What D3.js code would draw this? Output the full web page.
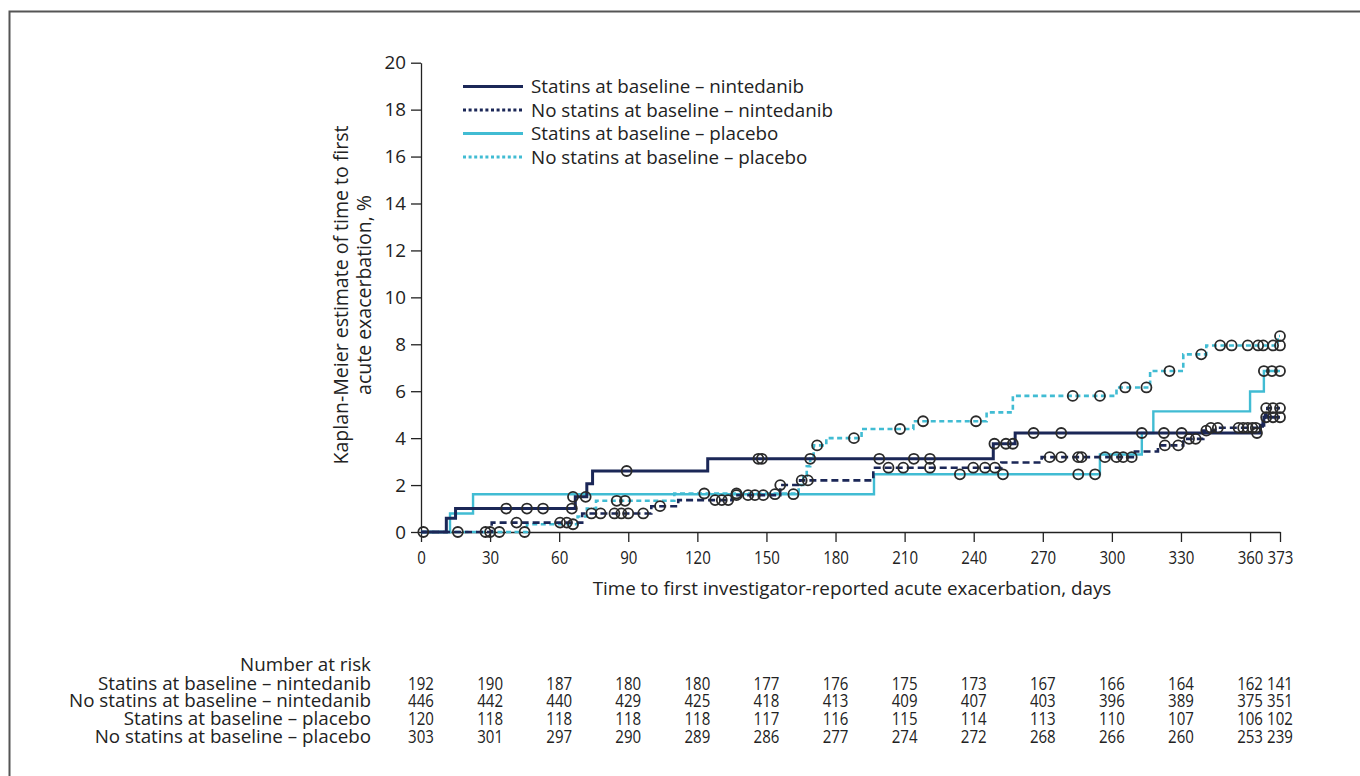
<!DOCTYPE html>
<html>
<head>
<meta charset="utf-8">
<script src="https://cdn.jsdelivr.net/npm/d3@7"></script>
<style>
  body { margin: 0; background: #fff; }
  text { font-family: "Open Sans", "Noto Sans", sans-serif; fill: #222; }
</style>
</head>
<body>
<svg id="chart"></svg>
<script>
const xTicks = [0, 30, 60, 90, 120, 150, 180, 210, 240, 270, 300, 330, 360, 373];
const yTicks = [0, 2, 4, 6, 8, 10, 12, 14, 16, 18, 20];

const seriesNames = [
  "Statins at baseline – nintedanib",
  "No statins at baseline – nintedanib",
  "Statins at baseline – placebo",
  "No statins at baseline – placebo"
];

// number at risk, one row per series, at each x tick
const riskStatinsNin = [192, 190, 187, 180, 180, 177, 176, 175, 173, 167, 166, 164, 162, 141];
const riskNoStatinsNin = [446, 442, 440, 429, 425, 418, 413, 409, 407, 403, 396, 389, 375, 351];
const riskStatinsPbo = [120, 118, 118, 118, 118, 117, 116, 115, 114, 113, 110, 107, 106, 102];
const riskNoStatinsPbo = [303, 301, 297, 290, 289, 286, 277, 274, 272, 268, 266, 260, 253, 239];

// KM step points [day, %]
const stepsStatinsNin = [[0, 0], [11, 0.59], [15, 1.0], [67, 1.5], [72, 2.06], [74.5, 2.6], [124.5, 3.12],
  [248.5, 3.76], [258, 4.22], [364.5, 4.55], [366, 4.89], [373, 4.89]];
const stepsNoStatinsNin = [[0, 0], [30.7, 0.4], [70, 0.79], [100, 1.1], [111.7, 1.36], [135, 1.57], [156, 2.0],
  [164.6, 2.2], [196.4, 2.74], [252, 2.96], [269.5, 3.19], [310, 3.43], [320, 3.69], [331, 3.97], [339.7, 4.32],
  [345, 4.44], [365.5, 4.7], [366.5, 5.0], [367.5, 5.28], [373, 5.28]];
const stepsStatinsPbo = [[0, 0], [12.6, 0.79], [22.6, 1.61], [196.7, 2.46], [294.8, 3.3], [313, 4.22],
  [318, 5.14], [360, 5.99], [366, 6.86], [373, 6.86]];
const stepsNoStatinsPbo = [[0, 0], [46, 0.33], [68, 0.66], [72, 1.0], [76, 1.33], [110, 1.64], [164, 2.0],
  [166, 2.4], [167.5, 2.8], [169, 3.12], [170.5, 3.69], [176, 4.0], [191.3, 4.39], [213.8, 4.72], [245.6, 5.1],
  [257, 5.8], [302, 6.16], [316.6, 6.86], [331, 7.57], [341, 7.95], [372, 8.35], [373, 8.35]];

// censored observations [day, %]
const censStatinsNin = [[1, 0], [37, 1.0], [46, 1.0], [53, 1.0], [65.5, 1.0], [66, 1.5], [71.5, 1.5], [89.3, 2.6],
  [146.5, 3.12], [148, 3.12], [169, 3.12], [199, 3.12], [214, 3.12], [221, 3.12], [249, 3.76], [254, 3.76],
  [257, 3.76], [266, 4.22], [278, 4.22], [313, 4.22], [322.6, 4.22], [330.3, 4.22], [363, 4.22],
  [367, 4.89], [370, 4.89], [373, 4.89]];
const censNoStatinsNin = [[16, 0], [28, 0], [30, 0], [41.5, 0.4], [60.4, 0.4], [63.3, 0.4], [74, 0.79], [78, 0.79],
  [84, 0.79], [87, 0.79], [90, 0.79], [96.5, 0.79], [103.8, 1.1], [127.7, 1.36], [130.6, 1.36], [133.4, 1.36],
  [137, 1.57], [142, 1.57], [145, 1.57], [148.6, 1.57], [156, 2.0], [165.3, 2.2], [168, 2.2], [203, 2.74],
  [209.4, 2.74], [221, 2.74], [239.8, 2.74], [244.9, 2.74], [249.2, 2.74], [273, 3.19], [278, 3.19],
  [285.4, 3.19], [286.8, 3.19], [297, 3.19], [302, 3.19], [304.9, 3.19], [308.6, 3.19], [323, 3.69],
  [328.8, 3.69], [333.5, 3.97], [336.4, 3.97], [341, 4.32], [343, 4.44], [346, 4.44], [355, 4.44],
  [357, 4.44], [359, 4.44], [361, 4.44], [362.5, 4.44], [367, 5.28], [370, 5.28], [373, 5.28]];
const censStatinsPbo = [[153.7, 1.61], [161.7, 1.61], [234, 2.46], [252.7, 2.46], [285.4, 2.46], [292.7, 2.46],
  [366, 6.86], [369.5, 6.86], [373, 6.86]];
const censNoStatinsPbo = [[34, 0], [45, 0], [66, 0.33], [85, 1.33], [88.6, 1.33], [123, 1.64], [137, 1.64],
  [172, 3.69], [188, 4.0], [208, 4.39], [218, 4.72], [241, 4.72], [283, 5.8], [294.8, 5.8], [305.8, 6.16],
  [315, 6.16], [325, 6.86], [338.8, 7.57], [347, 7.95], [352, 7.95], [359, 7.95], [363.5, 7.95],
  [365.7, 7.95], [370, 7.95], [373, 7.95], [373, 8.35]];

const dark = "#1b2757";
const light = "#41bcd3";

const series = [
  { name: seriesNames[0], steps: stepsStatinsNin, cens: censStatinsNin, risk: riskStatinsNin, color: dark, dash: null, w: 3 },
  { name: seriesNames[1], steps: stepsNoStatinsNin, cens: censNoStatinsNin, risk: riskNoStatinsNin, color: dark, dash: "7,4", w: 2.6 },
  { name: seriesNames[2], steps: stepsStatinsPbo, cens: censStatinsPbo, risk: riskStatinsPbo, color: light, dash: null, w: 2.4 },
  { name: seriesNames[3], steps: stepsNoStatinsPbo, cens: censNoStatinsPbo, risk: riskNoStatinsPbo, color: light, dash: "5,3.5", w: 2.6 }
];

const width = 1360, height = 776;
const svg = d3.select("#chart").attr("width", width).attr("height", height);

// frame (top and left edges visible)
svg.append("path").attr("d", "M9.5,776V11.5H1360")
  .attr("fill", "none").attr("stroke", "#555").attr("stroke-width", 2);

const x = d3.scaleLinear().domain([0, 373]).range([421, 1280]);
const y = d3.scaleLinear().domain([0, 20]).range([532, 62.7]);

const fs = "18.8px";
const numScale = 0.8; // numbers in the reference are set narrow

// y axis
const gy = svg.append("g").attr("transform", `translate(${x(0)},0)`)
  .call(d3.axisLeft(y).tickValues(yTicks).tickSize(10).tickSizeOuter(0).tickPadding(5));
gy.select(".domain").attr("stroke", "#222").attr("stroke-width", 1.3);
gy.selectAll(".tick line").attr("stroke", "#222").attr("stroke-width", 1.3);
gy.selectAll(".tick text").style("font-size", fs).attr("fill", "#222");

// x axis
const gx = svg.append("g").attr("transform", `translate(0,${y(0)})`)
  .call(d3.axisBottom(x).tickValues(xTicks).tickSize(10).tickSizeOuter(0).tickPadding(9));
gx.select(".domain").attr("stroke", "#222").attr("stroke-width", 1.3);
gx.selectAll(".tick line").attr("stroke", "#222").attr("stroke-width", 1.3);
gx.selectAll(".tick text").style("font-size", fs).attr("fill", "#222")
  .attr("transform", `scale(${numScale},1)`);

// axis titles
svg.append("text")
  .attr("transform", "translate(348,295) rotate(-90)")
  .attr("text-anchor", "middle").style("font-size", "19.5px")
  .selectAll("tspan")
  .data(["Kaplan-Meier estimate of time to first", "acute exacerbation, %"])
  .join("tspan")
  .attr("x", 0).attr("dy", (d, i) => i === 0 ? 0 : 23)
  .text(d => d);

svg.append("text")
  .attr("x", 852).attr("y", 595)
  .attr("text-anchor", "middle").style("font-size", fs)
  .text("Time to first investigator-reported acute exacerbation, days");

// curves
const line = d3.line().curve(d3.curveStepAfter).x(d => x(d[0])).y(d => y(d[1]));
const order = [2, 3, 1, 0];
order.forEach(i => {
  const s = series[i];
  svg.append("path")
    .attr("d", line(s.steps))
    .attr("fill", "none")
    .attr("stroke", s.color)
    .attr("stroke-width", s.w)
    .attr("stroke-dasharray", s.dash);
});

// censor marks
series.forEach(s => {
  svg.append("g").selectAll("circle")
    .data(s.cens)
    .join("circle")
    .attr("cx", d => x(d[0]))
    .attr("cy", d => y(d[1]))
    .attr("r", 5)
    .attr("fill", "none")
    .attr("stroke", "#2a2a2a")
    .attr("stroke-width", 1.8);
});

// legend
const legend = svg.append("g");
series.forEach((s, i) => {
  const ly = 86.5 + i * 23.5;
  legend.append("line")
    .attr("x1", 463).attr("x2", 523).attr("y1", ly).attr("y2", ly)
    .attr("stroke", s.color).attr("stroke-width", 3.2)
    .attr("stroke-dasharray", s.dash ? "3,2.6" : null);
  legend.append("text")
    .attr("x", 531).attr("y", ly).attr("dy", "0.35em")
    .style("font-size", fs)
    .text(s.name);
});

// number at risk table
svg.append("text")
  .attr("x", 371).attr("y", 664).attr("dy", "0.35em")
  .attr("text-anchor", "end").style("font-size", fs)
  .text("Number at risk");

series.forEach((s, i) => {
  const ry = 683 + i * 17.7;
  svg.append("text")
    .attr("x", 371).attr("y", ry).attr("dy", "0.35em")
    .attr("text-anchor", "end").style("font-size", fs)
    .text(s.name);
  svg.append("g").selectAll("text")
    .data(s.risk)
    .join("text")
    .attr("transform", (d, j) => `translate(${x(xTicks[j])},${ry}) scale(${numScale},1)`)
    .attr("dy", "0.35em")
    .attr("text-anchor", "middle").style("font-size", fs)
    .text(d => d);
});
</script>
</body>
</html>
